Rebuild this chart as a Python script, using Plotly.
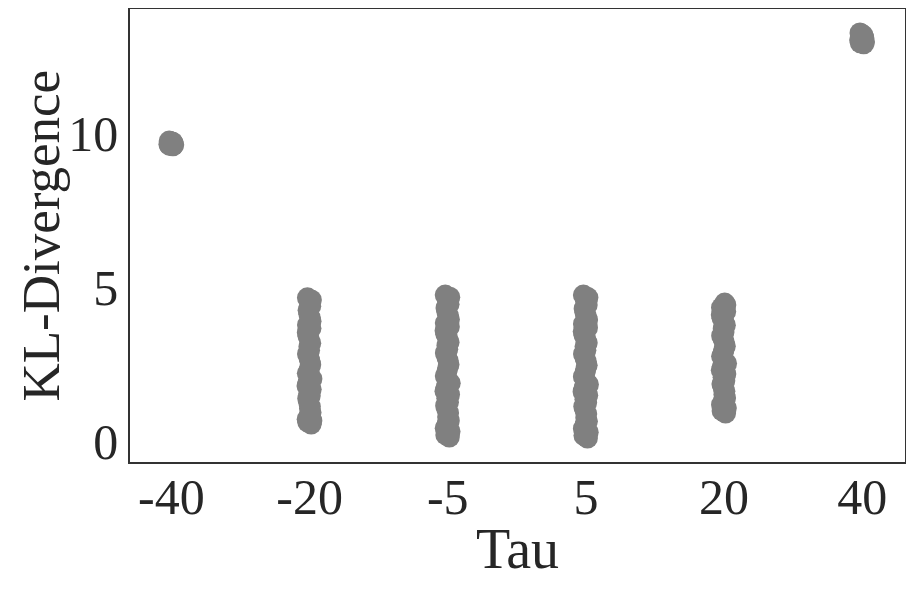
import plotly.graph_objects as go

# Valores (KL-Divergence por valor de Tau)
tau_labels = ["-40", "-20", "-5", "5", "20", "40"]

kl_m40 = [9.62, 9.70, 9.74, 9.66, 9.59, 9.72, 9.68, 9.64, 9.71, 9.60]
kl_m20 = [0.55, 0.62, 0.71, 0.80, 0.93, 1.05, 1.12, 1.24, 1.38, 1.47,
          1.55, 1.68, 1.79, 1.90, 2.02, 2.15, 2.26, 2.37, 2.48, 2.60,
          2.71, 2.83, 2.95, 3.06, 3.18, 3.30, 3.41, 3.52, 3.66, 3.77,
          3.89, 4.01, 4.12, 4.25, 4.38, 4.49, 4.58, 4.65, 0.66, 2.20]
kl_m5 = [0.13, 0.20, 0.31, 0.42, 0.55, 0.66, 0.78, 0.91, 1.03, 1.15,
         1.26, 1.39, 1.51, 1.62, 1.75, 1.88, 1.99, 2.11, 2.24, 2.37,
         2.49, 2.61, 2.72, 2.86, 2.98, 3.10, 3.21, 3.35, 3.47, 3.58,
         3.71, 3.83, 3.95, 4.07, 4.19, 4.32, 4.44, 4.56, 4.67, 4.74]
kl_p5 = [0.10, 0.18, 0.29, 0.40, 0.53, 0.64, 0.76, 0.88, 1.01, 1.12,
         1.25, 1.36, 1.49, 1.60, 1.73, 1.84, 1.97, 2.09, 2.21, 2.34,
         2.46, 2.58, 2.70, 2.83, 2.95, 3.07, 3.19, 3.32, 3.44, 3.56,
         3.68, 3.80, 3.93, 4.05, 4.17, 4.30, 4.42, 4.54, 4.66, 4.74]
kl_p20 = [0.91, 0.98, 1.07, 1.18, 1.29, 1.40, 1.51, 1.62, 1.73, 1.85,
          1.96, 2.07, 2.18, 2.30, 2.41, 2.52, 2.63, 2.75, 2.86, 2.97,
          3.08, 3.20, 3.31, 3.42, 3.54, 3.65, 3.76, 3.88, 3.99, 4.10,
          4.21, 4.33, 4.42, 4.48]
kl_p40 = [12.90, 13.02, 13.15, 13.22, 13.25, 13.10, 12.96, 13.18, 13.05, 12.93]

series = [kl_m40, kl_m20, kl_m5, kl_p5, kl_p20, kl_p40]

fuente = "Liberation Serif"
gris_texto = "#262626"

fig = go.Figure()
for tau, vals in zip(tau_labels, series):
    fig.add_trace(go.Box(
        x=[tau] * len(vals),
        y=vals,
        boxpoints="all",
        jitter=0.09,
        pointpos=0,
        fillcolor="rgba(0,0,0,0)",
        line=dict(width=0, color="rgba(0,0,0,0)"),
        marker=dict(color="#808080", size=21, opacity=1),
        showlegend=False,
        hoveron="points",
    ))

# la página html tiene 8px de margen, así que la figura es algo más pequeña
fig.update_layout(
    width=906,
    height=584,
    margin=dict(l=122, r=9, t=1, b=130),
    plot_bgcolor="white",
    paper_bgcolor="white",
    font=dict(family=fuente, size=50, color=gris_texto),
    boxmode="overlay",
)

fig.update_xaxes(
    type="category",
    categoryorder="array",
    categoryarray=tau_labels,
    range=[-0.3, 5.31],
    automargin=False,
    showgrid=False,
    zeroline=False,
    showline=True,
    mirror=True,
    linecolor="#333333",
    linewidth=1.5,
    ticks="",
    ticklabelstandoff=-10,
    title=dict(text="Tau", font=dict(size=56), standoff=5),
)

fig.update_yaxes(
    range=[-0.68, 14.03],
    tickvals=[0, 5, 10],
    automargin=False,
    showgrid=False,
    zeroline=False,
    showline=True,
    mirror=True,
    linecolor="#333333",
    linewidth=1.5,
    ticks="",
    ticklabelstandoff=0,
)

# título del eje y como anotación para poder colocarlo a mano
fig.add_annotation(
    text="KL-Divergence",
    xref="paper", yref="paper",
    x=-0.116, y=0.5,
    xanchor="center", yanchor="middle",
    textangle=-90,
    showarrow=False,
    font=dict(size=53, family=fuente, color=gris_texto),
)

fig.write_html("out.html")
